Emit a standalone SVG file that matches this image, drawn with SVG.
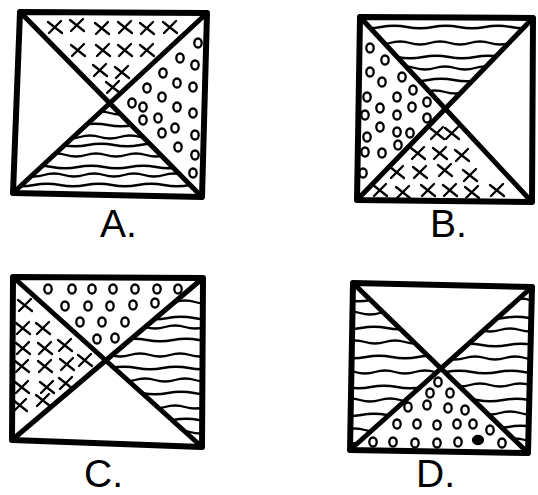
<svg xmlns="http://www.w3.org/2000/svg" xmlns:xlink="http://www.w3.org/1999/xlink" width="538" height="495" viewBox="0 0 538 495">
<style>
.bg{fill:#fff}
.frame{fill:none;stroke:#000;stroke-width:6;stroke-linejoin:round}
.diag{fill:none;stroke:#000;stroke-width:5;stroke-linecap:round}
.pat{fill:none;stroke:#000;stroke-width:2.3;stroke-linecap:round;stroke-linejoin:round}
.lbl{font-family:"Liberation Sans",Arial,sans-serif;font-size:39px;fill:#000}
</style>
<defs>
<path id="w1" d="M0,0 q10,-3 20,0 t20,0 t20,0 t20,0 t20,0 t20,0 t20,0 t20,0 t20,0 t20,0 t20,0"/>
<path id="w2" d="M0,0 q13,2.5 26,0 t26,0 t26,0 t26,0 t26,0 t26,0 t26,0 t26,0 t26,0"/>
<path id="x" d="M-7,-5 L7,6 M-6,6 L6,-6"/>
<ellipse id="o" rx="3.7" ry="4.5"/>
<clipPath id="cA"><polygon points="111,104 13,193 202,197"/></clipPath>
<clipPath id="cB"><polygon points="360,17 533,18 445,110"/></clipPath>
<clipPath id="cC"><polygon points="203,278 202,447 105,361"/></clipPath>
<clipPath id="cDl"><polygon points="353,283 350,450 438,368"/></clipPath>
<clipPath id="cDr"><polygon points="532,287 528,453 438,368"/></clipPath>
</defs>
<rect class="bg" x="0" y="0" width="538" height="495"/>

<g id="square-a">
<g class="pat">
<use href="#x" x="55" y="27"/><use href="#x" x="77" y="25"/><use href="#x" x="102" y="28"/><use href="#x" x="125" y="27"/><use href="#x" x="147" y="28"/><use href="#x" x="170" y="27"/>
<use href="#x" x="78" y="50"/><use href="#x" x="103" y="50"/><use href="#x" x="125" y="50"/><use href="#x" x="147" y="50"/>
<use href="#x" x="100" y="70"/><use href="#x" x="122" y="72"/><use href="#x" x="113" y="87"/>
</g>
<g class="pat">
<use href="#o" x="198" y="43"/><use href="#o" x="180" y="58"/><use href="#o" x="195" y="65"/><use href="#o" x="163" y="73"/><use href="#o" x="177" y="83"/><use href="#o" x="193" y="87"/><use href="#o" x="147" y="88"/><use href="#o" x="162" y="97"/><use href="#o" x="132" y="103"/><use href="#o" x="143" y="107"/><use href="#o" x="177" y="107"/><use href="#o" x="193" y="113"/><use href="#o" x="143" y="120"/><use href="#o" x="158" y="118"/><use href="#o" x="175" y="128"/><use href="#o" x="162" y="133"/><use href="#o" x="195" y="135"/><use href="#o" x="178" y="147"/><use href="#o" x="195" y="155"/><use href="#o" x="193" y="173"/>
</g>
<g class="pat" clip-path="url(#cA)">
<use href="#w1" x="10" y="113"/><use href="#w2" x="4" y="125"/><use href="#w1" x="0" y="137"/><use href="#w2" x="10" y="145"/><use href="#w1" x="6" y="155"/><use href="#w2" x="0" y="167"/><use href="#w1" x="4" y="175"/><use href="#w2" x="8" y="185"/>
</g>
<path class="diag" d="M20,12 L202,197 M207,13 L13,193"/>
<polygon class="frame" points="20,12 207,13 202,197 13,193"/>
<text class="lbl" x="100" y="237">A.</text>
</g>

<g id="square-b">
<g class="pat" clip-path="url(#cB)">
<use href="#w2" x="355" y="27"/><use href="#w1" x="350" y="43"/><use href="#w2" x="345" y="57"/><use href="#w1" x="355" y="68"/><use href="#w2" x="350" y="80"/><use href="#w1" x="345" y="92"/>
</g>
<g class="pat">
<use href="#o" x="370" y="48"/><use href="#o" x="385" y="60"/><use href="#o" x="370" y="72"/><use href="#o" x="382" y="82"/><use href="#o" x="402" y="77"/><use href="#o" x="413" y="90"/><use href="#o" x="367" y="97"/><use href="#o" x="397" y="97"/><use href="#o" x="412" y="107"/><use href="#o" x="427" y="102"/><use href="#o" x="380" y="108"/><use href="#o" x="365" y="115"/><use href="#o" x="397" y="115"/><use href="#o" x="427" y="118"/><use href="#o" x="380" y="127"/><use href="#o" x="367" y="137"/><use href="#o" x="397" y="132"/><use href="#o" x="410" y="133"/><use href="#o" x="382" y="153"/><use href="#o" x="365" y="152"/><use href="#o" x="398" y="145"/><use href="#o" x="363" y="173"/>
</g>
<g class="pat">
<use href="#x" x="437" y="133"/><use href="#x" x="452" y="133"/>
<use href="#x" x="418" y="153"/><use href="#x" x="440" y="153"/><use href="#x" x="462" y="155"/>
<use href="#x" x="397" y="172"/><use href="#x" x="420" y="172"/><use href="#x" x="445" y="170"/><use href="#x" x="470" y="175"/>
<use href="#x" x="380" y="190"/><use href="#x" x="403" y="192"/><use href="#x" x="428" y="190"/><use href="#x" x="450" y="190"/><use href="#x" x="472" y="192"/><use href="#x" x="497" y="190"/>
</g>
<path class="diag" d="M360,17 L532,202 M533,18 L357,200"/>
<polygon class="frame" points="360,17 533,18 532,202 357,200"/>
<text class="lbl" x="430" y="237">B.</text>
</g>

<g id="square-c">
<g class="pat">
<use href="#o" x="48" y="289"/><use href="#o" x="72" y="289"/><use href="#o" x="92" y="289"/><use href="#o" x="113" y="289"/><use href="#o" x="135" y="289"/><use href="#o" x="157" y="289"/><use href="#o" x="178" y="289"/>
<use href="#o" x="65" y="306"/><use href="#o" x="88" y="306"/><use href="#o" x="110" y="306"/><use href="#o" x="133" y="305"/><use href="#o" x="155" y="303"/>
<use href="#o" x="80" y="322"/><use href="#o" x="102" y="322"/><use href="#o" x="125" y="322"/>
<use href="#o" x="97" y="339"/><use href="#o" x="115" y="338"/>
</g>
<g class="pat">
<use href="#x" x="25" y="305"/><use href="#x" x="23" y="328"/><use href="#x" x="43" y="328"/><use href="#x" x="23" y="348"/><use href="#x" x="45" y="348"/><use href="#x" x="65" y="345"/><use href="#x" x="22" y="366"/><use href="#x" x="45" y="366"/><use href="#x" x="67" y="364"/><use href="#x" x="85" y="360"/><use href="#x" x="22" y="387"/><use href="#x" x="47" y="387"/><use href="#x" x="66" y="383"/><use href="#x" x="20" y="405"/><use href="#x" x="43" y="400"/>
</g>
<g class="pat" clip-path="url(#cC)">
<use href="#w1" x="95" y="302"/><use href="#w2" x="90" y="318"/><use href="#w1" x="85" y="327"/><use href="#w2" x="95" y="340"/><use href="#w1" x="90" y="355"/><use href="#w2" x="85" y="368"/><use href="#w1" x="95" y="380"/><use href="#w2" x="90" y="393"/><use href="#w1" x="85" y="407"/><use href="#w2" x="95" y="420"/><use href="#w1" x="90" y="432"/>
</g>
<path class="diag" d="M13,277 L202,447 M203,278 L12,440"/>
<polygon class="frame" points="13,277 203,278 202,447 12,440"/>
<text class="lbl" x="84" y="487">C.</text>
</g>

<g id="square-d">
<g class="pat" clip-path="url(#cDl)">
<use href="#w2" x="345" y="300"/><use href="#w1" x="340" y="313"/><use href="#w2" x="335" y="328"/><use href="#w1" x="345" y="342"/><use href="#w2" x="340" y="357"/><use href="#w1" x="335" y="372"/><use href="#w2" x="345" y="387"/><use href="#w1" x="340" y="400"/><use href="#w2" x="335" y="415"/><use href="#w1" x="345" y="430"/><use href="#w2" x="340" y="442"/>
</g>
<g class="pat" clip-path="url(#cDr)">
<use href="#w1" x="430" y="300"/><use href="#w2" x="425" y="318"/><use href="#w1" x="420" y="330"/><use href="#w2" x="430" y="345"/><use href="#w1" x="425" y="358"/><use href="#w2" x="420" y="372"/><use href="#w1" x="430" y="385"/><use href="#w2" x="425" y="400"/><use href="#w1" x="420" y="413"/><use href="#w2" x="430" y="427"/><use href="#w1" x="425" y="440"/>
</g>
<g class="pat">
<use href="#o" x="438" y="382"/><use href="#o" x="430" y="393"/><use href="#o" x="450" y="393"/>
<use href="#o" x="408" y="407"/><use href="#o" x="427" y="405"/><use href="#o" x="448" y="408"/><use href="#o" x="465" y="410"/>
<use href="#o" x="397" y="424"/><use href="#o" x="417" y="424"/><use href="#o" x="437" y="425"/><use href="#o" x="457" y="424"/><use href="#o" x="473" y="424"/><use href="#o" x="490" y="430"/>
<use href="#o" x="373" y="442"/><use href="#o" x="393" y="442"/><use href="#o" x="415" y="443"/><use href="#o" x="437" y="443"/><use href="#o" x="458" y="442"/><use href="#o" x="502" y="443"/>
<ellipse cx="478" cy="440" rx="5" ry="4" fill="#000"/>
</g>
<path class="diag" d="M353,283 L528,453 M532,287 L350,450"/>
<polygon class="frame" points="353,283 532,287 528,453 350,450"/>
<text class="lbl" x="416" y="487">D.</text>
</g>
</svg>
